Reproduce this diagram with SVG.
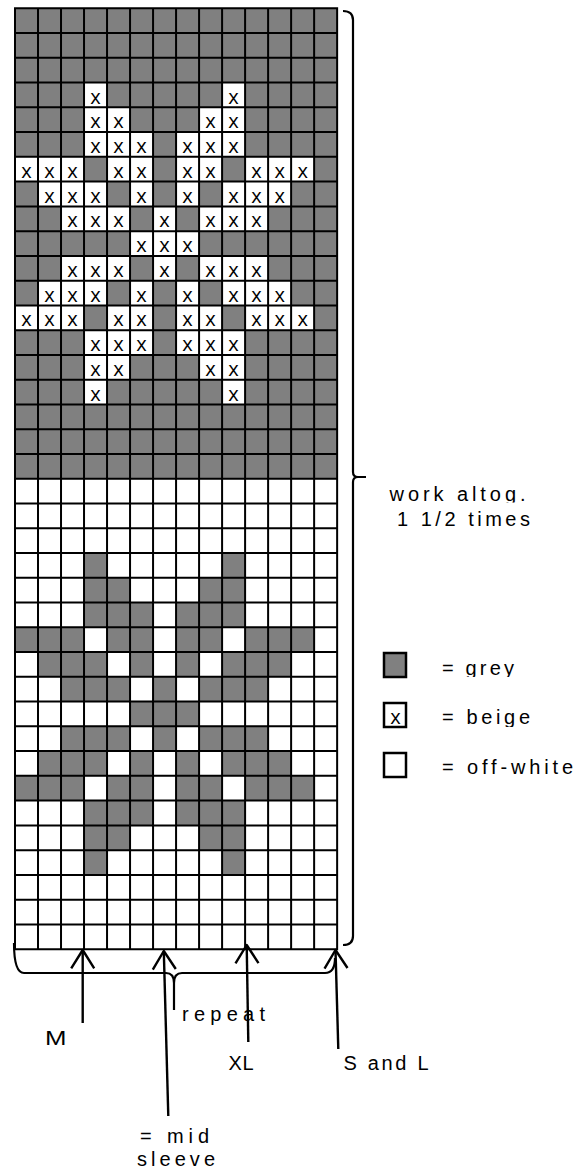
<svg xmlns="http://www.w3.org/2000/svg" xmlns:xlink="http://www.w3.org/1999/xlink" width="582" height="1171" viewBox="0 0 582 1171">
<style>
.gl{stroke:#000;stroke-width:2;fill:none;stroke-linecap:square}
.x{font-family:"Open Sans","Liberation Sans",sans-serif;font-size:20px;text-anchor:middle;fill:#000}
.lb{font-family:"Liberation Sans",Arial,sans-serif;font-size:20px;fill:#000}
.ln{stroke:#000;stroke-width:2.4;fill:none;stroke-linejoin:round}
.br{stroke:#000;stroke-width:2.2;fill:none;stroke-linejoin:round}
</style>
<defs>
<marker id="ah" markerUnits="userSpaceOnUse" orient="auto-start-reverse" refX="0" refY="0" markerWidth="1" markerHeight="1" overflow="visible">
<path d="M-18.3 -11.5L0 0L-18.3 11.5" fill="none" stroke="#000" stroke-width="2.4" stroke-linejoin="round"/>
</marker>
<g id="p0"><rect x="84.03" width="23.01" height="24.76"/><rect x="222.09" width="23.01" height="24.76"/></g>
<g id="p1"><rect x="84.03" width="23.01" height="24.76"/><rect x="107.04" width="23.01" height="24.76"/><rect x="199.08" width="23.01" height="24.76"/><rect x="222.09" width="23.01" height="24.76"/></g>
<g id="p2"><rect x="84.03" width="23.01" height="24.76"/><rect x="107.04" width="23.01" height="24.76"/><rect x="130.05" width="23.01" height="24.76"/><rect x="176.07" width="23.01" height="24.76"/><rect x="199.08" width="23.01" height="24.76"/><rect x="222.09" width="23.01" height="24.76"/></g>
<g id="p3"><rect x="15" width="23.01" height="24.76"/><rect x="38.01" width="23.01" height="24.76"/><rect x="61.02" width="23.01" height="24.76"/><rect x="107.04" width="23.01" height="24.76"/><rect x="130.05" width="23.01" height="24.76"/><rect x="176.07" width="23.01" height="24.76"/><rect x="199.08" width="23.01" height="24.76"/><rect x="245.1" width="23.01" height="24.76"/><rect x="268.11" width="23.01" height="24.76"/><rect x="291.12" width="23.01" height="24.76"/></g>
<g id="p4"><rect x="38.01" width="23.01" height="24.76"/><rect x="61.02" width="23.01" height="24.76"/><rect x="84.03" width="23.01" height="24.76"/><rect x="130.05" width="23.01" height="24.76"/><rect x="176.07" width="23.01" height="24.76"/><rect x="222.09" width="23.01" height="24.76"/><rect x="245.1" width="23.01" height="24.76"/><rect x="268.11" width="23.01" height="24.76"/></g>
<g id="p5"><rect x="61.02" width="23.01" height="24.76"/><rect x="84.03" width="23.01" height="24.76"/><rect x="107.04" width="23.01" height="24.76"/><rect x="153.06" width="23.01" height="24.76"/><rect x="199.08" width="23.01" height="24.76"/><rect x="222.09" width="23.01" height="24.76"/><rect x="245.1" width="23.01" height="24.76"/></g>
<g id="p6"><rect x="130.05" width="23.01" height="24.76"/><rect x="153.06" width="23.01" height="24.76"/><rect x="176.07" width="23.01" height="24.76"/></g>
<g id="t0" class="x"><text x="95.53" y="21">x</text><text x="233.59" y="21">x</text></g>
<g id="t1" class="x"><text x="95.53" y="21">x</text><text x="118.54" y="21">x</text><text x="210.58" y="21">x</text><text x="233.59" y="21">x</text></g>
<g id="t2" class="x"><text x="95.53" y="21">x</text><text x="118.54" y="21">x</text><text x="141.55" y="21">x</text><text x="187.57" y="21">x</text><text x="210.58" y="21">x</text><text x="233.59" y="21">x</text></g>
<g id="t3" class="x"><text x="26.5" y="21">x</text><text x="49.51" y="21">x</text><text x="72.52" y="21">x</text><text x="118.54" y="21">x</text><text x="141.55" y="21">x</text><text x="187.57" y="21">x</text><text x="210.58" y="21">x</text><text x="256.6" y="21">x</text><text x="279.61" y="21">x</text><text x="302.62" y="21">x</text></g>
<g id="t4" class="x"><text x="49.51" y="21">x</text><text x="72.52" y="21">x</text><text x="95.53" y="21">x</text><text x="141.55" y="21">x</text><text x="187.57" y="21">x</text><text x="233.59" y="21">x</text><text x="256.6" y="21">x</text><text x="279.61" y="21">x</text></g>
<g id="t5" class="x"><text x="72.52" y="21">x</text><text x="95.53" y="21">x</text><text x="118.54" y="21">x</text><text x="164.56" y="21">x</text><text x="210.58" y="21">x</text><text x="233.59" y="21">x</text><text x="256.6" y="21">x</text></g>
<g id="t6" class="x"><text x="141.55" y="21">x</text><text x="164.56" y="21">x</text><text x="187.57" y="21">x</text></g>
<clipPath id="c1"><rect x="380" y="470" width="200" height="32.5"/></clipPath>
<clipPath id="c2"><rect x="430" y="640" width="150" height="37"/></clipPath>
<clipPath id="c3"><rect x="430" y="690" width="150" height="37"/></clipPath>
</defs>
<rect width="582" height="1171" fill="#fff"/>
<g id="chart">
<rect x="15" y="8.3" width="322.14" height="470.44" fill="#808080"/>
<g id="beige-cells" fill="#fff">
<use href="#p0" y="82.58"/><use href="#t0" y="82.58"/>
<use href="#p1" y="107.34"/><use href="#t1" y="107.34"/>
<use href="#p2" y="132.1"/><use href="#t2" y="132.1"/>
<use href="#p3" y="156.86"/><use href="#t3" y="156.86"/>
<use href="#p4" y="181.62"/><use href="#t4" y="181.62"/>
<use href="#p5" y="206.38"/><use href="#t5" y="206.38"/>
<use href="#p6" y="231.14"/><use href="#t6" y="231.14"/>
<use href="#p5" y="255.9"/><use href="#t5" y="255.9"/>
<use href="#p4" y="280.66"/><use href="#t4" y="280.66"/>
<use href="#p3" y="305.42"/><use href="#t3" y="305.42"/>
<use href="#p2" y="330.18"/><use href="#t2" y="330.18"/>
<use href="#p1" y="354.94"/><use href="#t1" y="354.94"/>
<use href="#p0" y="379.7"/><use href="#t0" y="379.7"/>
</g>
<g id="grey-cells" fill="#808080">
<use href="#p0" y="553.02"/>
<use href="#p1" y="577.78"/>
<use href="#p2" y="602.54"/>
<use href="#p3" y="627.3"/>
<use href="#p4" y="652.06"/>
<use href="#p5" y="676.82"/>
<use href="#p6" y="701.58"/>
<use href="#p5" y="726.34"/>
<use href="#p4" y="751.1"/>
<use href="#p3" y="775.86"/>
<use href="#p2" y="800.62"/>
<use href="#p1" y="825.38"/>
<use href="#p0" y="850.14"/>
</g>
<path id="grid" class="gl" d="M15 8.3H337.14M15 33.06H337.14M15 57.82H337.14M15 82.58H337.14M15 107.34H337.14M15 132.1H337.14M15 156.86H337.14M15 181.62H337.14M15 206.38H337.14M15 231.14H337.14M15 255.9H337.14M15 280.66H337.14M15 305.42H337.14M15 330.18H337.14M15 354.94H337.14M15 379.7H337.14M15 404.46H337.14M15 429.22H337.14M15 453.98H337.14M15 478.74H337.14M15 503.5H337.14M15 528.26H337.14M15 553.02H337.14M15 577.78H337.14M15 602.54H337.14M15 627.3H337.14M15 652.06H337.14M15 676.82H337.14M15 701.58H337.14M15 726.34H337.14M15 751.1H337.14M15 775.86H337.14M15 800.62H337.14M15 825.38H337.14M15 850.14H337.14M15 874.9H337.14M15 899.66H337.14M15 924.42H337.14M15 949.18H337.14M15 8.3V949.18M38.01 8.3V949.18M61.02 8.3V949.18M84.03 8.3V949.18M107.04 8.3V949.18M130.05 8.3V949.18M153.06 8.3V949.18M176.07 8.3V949.18M199.08 8.3V949.18M222.09 8.3V949.18M245.1 8.3V949.18M268.11 8.3V949.18M291.12 8.3V949.18M314.13 8.3V949.18M337.14 8.3V949.18"/>
</g>
<g id="connectors">
<path id="right-brace" class="br" d="M343 11Q353 11 353 20V472Q353 477 358 477H366M358 477Q353 477 353 482V936Q353 945 343 945"/>
<path id="bottom-brace" class="br" d="M14 943Q14 973 24 973H166Q174 973 174 983V1010M174 983Q174 973 182 973H325Q335 973 335 958"/>
<path id="arrow-m" class="ln" d="M82.7 950V1023" marker-start="url(#ah)"/>
<path id="arrow-mid" class="ln" d="M163.8 951L168.3 1116" marker-start="url(#ah)"/>
<path id="arrow-xl" class="ln" d="M246.7 945L248.3 1042" marker-start="url(#ah)"/>
<path id="arrow-sl" class="ln" d="M335.5 950L338.3 1049" marker-start="url(#ah)"/>
</g>
<g id="repeat-note">
<text class="lb" clip-path="url(#c1)" x="389.5" y="501" textLength="136" lengthAdjust="spacing">work altog.</text>
<text class="lb" x="397" y="526" textLength="133" lengthAdjust="spacing">1 1/2 times</text>
</g>
<g id="legend">
<rect x="384" y="653" width="22" height="24" fill="#808080" stroke="#000" stroke-width="2.5"/>
<text class="lb" clip-path="url(#c2)" x="442" y="675" textLength="72" lengthAdjust="spacing">= grey</text>
<rect x="384" y="703" width="22" height="24" fill="#fff" stroke="#000" stroke-width="2.5"/>
<text class="x" x="395.5" y="724">x</text>
<text class="lb" clip-path="url(#c3)" x="442" y="724" textLength="88" lengthAdjust="spacing">= beige</text>
<rect x="384" y="753" width="22" height="24" fill="#fff" stroke="#000" stroke-width="2.5"/>
<text class="lb" x="442" y="774" textLength="131" lengthAdjust="spacing">= off-white</text>
</g>
<g id="labels">
<text class="lb" x="45" y="1045" textLength="21.5" lengthAdjust="spacingAndGlyphs">M</text>
<text class="lb" x="182" y="1021" textLength="83" lengthAdjust="spacing">repeat</text>
<text class="lb" x="228.5" y="1070" textLength="25" lengthAdjust="spacing">XL</text>
<text class="lb" x="343.5" y="1070" textLength="85" lengthAdjust="spacing">S and L</text>
<text class="lb" x="140" y="1143" textLength="69" lengthAdjust="spacing">= mid</text>
<text class="lb" x="137" y="1166" textLength="78" lengthAdjust="spacing">sleeve</text>
</g>
</svg>
